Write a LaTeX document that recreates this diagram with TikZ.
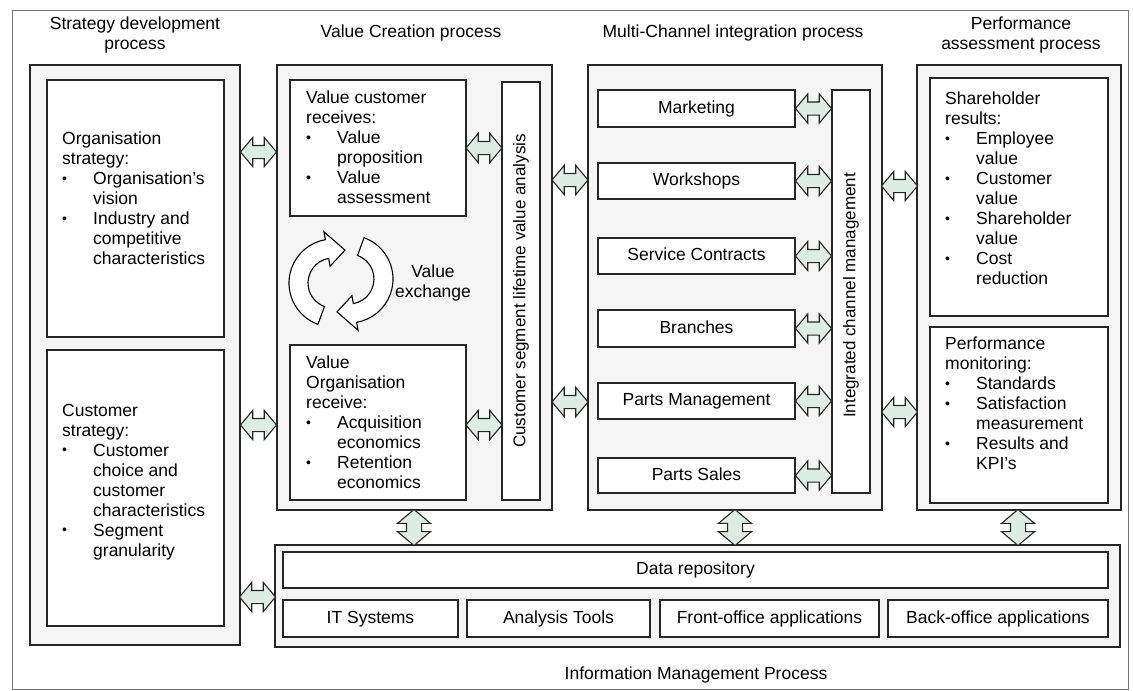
\documentclass[tikz,border=0pt]{standalone}
\usepackage{fontspec}
\setmainfont{Liberation Sans}
\usetikzlibrary{shapes.arrows,fit,positioning}

\definecolor{mint}{RGB}{220,237,229}
\newcommand{\bl}{\makebox[31pt][l]{\raisebox{1.5pt}{\fontsize{14}{14}\selectfont\textbullet}}}
\newcommand{\ind}{\hspace*{31pt}}

\tikzset{
	outbox/.style={draw=black!85, line width=1.3pt, fill=black!4, inner sep=0pt},
	inbox/.style={draw=black!85, line width=1.3pt, fill=white, inner sep=0pt},
	txt/.style={align=left, inner sep=0pt, anchor=north west},
	lbl/.style={text height=12.5pt, text depth=3.5pt},
	harrow/.style={double arrow, draw=black!85, line width=1.1pt, fill=mint,
		inner xsep=0pt, inner ysep=6pt, minimum height=36pt,
		double arrow head extend=8pt, double arrow tip angle=100},
	varrow/.style={harrow, rotate=90, inner ysep=7pt, double arrow head extend=9pt},
}

\begin{document}
\begin{tikzpicture}[x=1pt, y=-1pt, font=\fontsize{17.5}{20}\selectfont]
	\useasboundingbox (0,0) rectangle (1133,691);
	%frame
	\draw[black!55, line width=0.8pt] (12,10) rectangle (1128,689);
	%titles
	\node[align=center] (t1) at (135,35) {Strategy development\\process};
	\node (t2) at (411,33) {Value Creation process};
	\node (t3) at (733,33) {Multi-Channel integration process};
	\node[align=center] (t4) at (1021,35) {Performance\\assessment process};
	\node (t5) at (696,675) {Information Management Process};
	%process boxes
	\node[outbox, fit={(30,65) (240,645)}] (strat) {};
	\node[outbox, fit={(277,65) (552,510)}] (valc) {};
	\node[outbox, fit={(588,65) (882,510)}] (mchan) {};
	\node[outbox, fit={(917,65) (1121,510)}] (perf) {};
	\node[outbox, fit={(275,545) (1120,647)}] (info) {};
	%strategy
	\node[inbox, fit={(47,80) (224,337)}] (orgs) {};
	\node[inbox, fit={(47,350) (224,626)}] (custs) {};
	\node[txt] (orgstxt) at (62,132) {Organisation\\strategy:\\\bl Organisation's\\\ind vision\\\bl Industry and\\\ind competitive\\\ind characteristics};
	\node[txt] (custstxt) at (62,404) {Customer\\strategy:\\\bl Customer\\\ind choice and\\\ind customer\\\ind characteristics\\\bl Segment\\\ind granularity};
	%value creation
	\node[inbox, fit={(290,80) (466,216)}] (vcust) {};
	\node[inbox, fit={(290,345) (466,500)}] (vorg) {};
	\node[inbox, fit={(502,82) (540,500)}] (cslv) {};
	\node[txt] (vcusttxt) at (306,91) {Value customer\\receives:\\\bl Value\\\ind proposition\\\bl Value\\\ind assessment};
	\node[txt] (vorgtxt) at (306,356) {Value\\Organisation\\receive:\\\bl Acquisition\\\ind economics\\\bl Retention\\\ind economics};
	\node[rotate=90, font=\fontsize{17}{20}\selectfont] (cslvtxt) at (cslv.center) {Customer segment lifetime value analysis};
	%value exchange
	\begin{scope}[shift={(341,281)}]
		\foreach \r in {0,180}
		\draw[line width=1.1pt, fill=white, rotate=\r, shift={(-8pt,-2pt)}]
		(250:44pt) arc[start angle=250, end angle=100, radius=44pt]
		-- (100:52pt) -- (70:35pt) -- (100:17pt) -- (100:25pt)
		arc[start angle=100, end angle=250, radius=25pt] -- cycle;
	\end{scope}
	\node[align=center] (vx) at (433,283) {Value\\exchange};
	%multi-channel
	\node[inbox, fit={(832,90) (870,493)}] (icm) {};
	\node[rotate=90, font=\fontsize{17}{20}\selectfont] (icmtxt) at ([yshift=-4pt]icm.center) {Integrated channel management};
	\foreach \n/\t/\yt/\yb in {mkt/Marketing/90/127, wsh/Workshops/163/199,
		svc/Service Contracts/238/274, brn/Branches/310/347,
		pmg/Parts Management/383/419, psl/Parts Sales/458/493}{
		\node[inbox, fit={(598,\yt) (795,\yb)}] (\n) {};
		\node[lbl] (\n txt) at (\n.center) {\t};
		\path (\n.east) -- node[harrow] (ar\n) {} (\n.east -| icm.west);
	}
	%performance
	\node[inbox, fit={(930,78) (1108,316)}] (shr) {};
	\node[inbox, fit={(930,327) (1108,503)}] (pmon) {};
	\node[txt] (shrtxt) at (945,92) {Shareholder\\results:\\\bl Employee\\\ind value\\\bl Customer\\\ind value\\\bl Shareholder\\\ind value\\\bl Cost\\\ind reduction};
	\node[txt] (pmontxt) at (945,337) {Performance\\monitoring:\\\bl Standards\\\bl Satisfaction\\\ind measurement\\\bl Results and\\\ind KPI's};
	%information management
	\node[inbox, fit={(283,552) (1108,588)}] (drep) {};
	\node[lbl] (dreptxt) at (drep.center) {Data repository};
	\foreach \n/\t/\xl/\xr in {its/IT Systems/283/458, ana/Analysis Tools/467/650,
		fro/Front-office applications/660/879, bko/Back-office applications/888/1108}{
		\node[inbox, fit={(\xl,600) (\xr,637)}] (\n) {};
		\node[lbl] (\n txt) at (\n.center) {\t};
	}
	%connectors
	\path (strat.east |- 0,152) -- node[harrow] (a1) {} (valc.west |- 0,152);
	\path (strat.east |- 0,425) -- node[harrow] (a2) {} (valc.west |- 0,425);
	\path (strat.east |- 0,597) -- node[harrow] (a3) {} (info.west |- 0,597);
	\path (vcust.east) -- node[harrow] (a4) {} (vcust.east -| cslv.west);
	\path (vorg.east |- 0,425) -- node[harrow] (a5) {} (cslv.west |- 0,425);
	\path (valc.east |- 0,180) -- node[harrow] (a6) {} (mchan.west |- 0,180);
	\path (valc.east |- 0,402) -- node[harrow] (a7) {} (mchan.west |- 0,402);
	\path (mchan.east |- 0,186) -- node[harrow] (a8) {} (perf.west |- 0,186);
	\path (mchan.east |- 0,412) -- node[harrow] (a9) {} (perf.west |- 0,412);
	\path (valc.south -| 414,0) -- node[varrow] (v1) {} (info.north -| 414,0);
	\path (mchan.south -| 735,0) -- node[varrow] (v2) {} (info.north -| 735,0);
	\path (perf.south -| 1018,0) -- node[varrow] (v3) {} (info.north -| 1018,0);
\end{tikzpicture}
\end{document}
